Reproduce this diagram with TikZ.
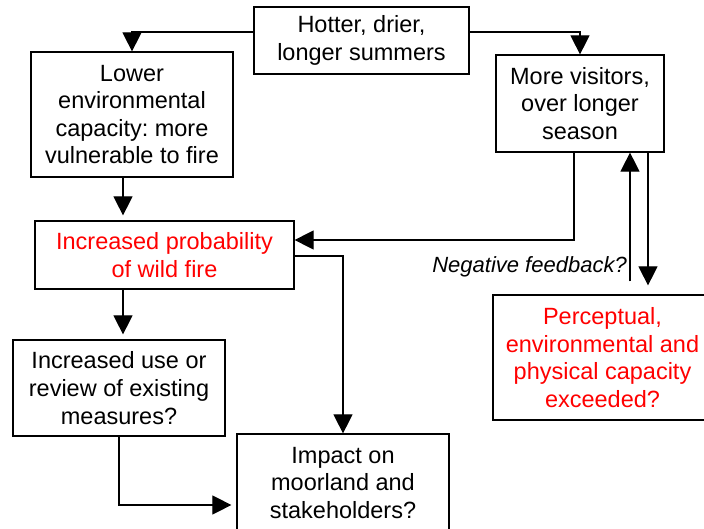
\documentclass[tikz,border=0pt]{standalone}
\usepackage{fontspec}
\setmainfont{Liberation Sans}
\usetikzlibrary{arrows.meta}
\frenchspacing
\begin{document}
\begin{tikzpicture}[x=1pt,y=-1pt,
  box/.style={draw,line width=1.2pt,align=center,inner sep=0pt,font=\fontsize{23.5}{27.6}\selectfont},
  redtext/.style={text=red},
  arr/.style={line width=1.1pt,-{Triangle[length=19pt,width=19pt]}}]
\useasboundingbox (0,0) rectangle (704,529);
\node[box,minimum width=215pt,minimum height=67pt] (top) at (361.5,40.5) {Hotter, drier,\\longer summers};
\node[box,minimum width=202pt,minimum height=125pt] (low) at (132,114.5) {Lower\\environmental\\capacity: more\\vulnerable to fire};
\node[box,minimum width=168pt,minimum height=97pt] (vis) at (580,103.5) {More visitors,\\over longer\\season};
\node[box,redtext,minimum width=259pt,minimum height=68pt] (fire) at (164.5,255) {Increased probability\\of wild fire};
\node[box,minimum width=212pt,minimum height=96pt] (meas) at (119,388) {Increased use or\\review of existing\\measures?};
\node[box,minimum width=212pt,minimum height=98pt] (impact) at (343,483) {Impact on\\moorland and\\stakeholders?};
\node[box,redtext,minimum width=219pt,minimum height=125pt] (perc) at (602.5,357.5) {Perceptual,\\environmental and\\physical capacity\\exceeded?};
\node[font=\itshape\fontsize{22}{26}\selectfont,anchor=base east,inner sep=0pt] (fb) at (627,273) {Negative feedback?};
% connectors
\draw[arr] ([yshift=8.5pt]top.west) -| (low.north);
\draw[arr] ([yshift=8.5pt]top.east) -| (vis.north);
\path ([xshift=-9pt]low.south) coordinate (a1);
\draw[arr,shorten >=5pt] (a1) -- (a1 |- fire.north);
\path ([xshift=-41.5pt]fire.south) coordinate (a2);
\draw[arr,shorten >=5pt] (a2) -- (a2 |- meas.north);
\path ([xshift=-6pt]vis.south) coordinate (a3);
\draw[arr] (a3) |- ([yshift=15pt]fire.east);
\draw[arr] ([yshift=-1pt]fire.east) -| (impact.north);
\draw[arr,shorten >=5pt] (meas.south) |- ([yshift=-22pt]impact.west);
\path ([xshift=50pt]vis.south) coordinate (fu);
\path ([yshift=13pt]perc.north) coordinate (pn);
\draw[arr] (fu |- pn) -- (fu);
\path ([xshift=68pt]vis.south) coordinate (fd);
\draw[arr,shorten >=9pt] (fd) -- (fd |- perc.north);
\end{tikzpicture}
\end{document}
